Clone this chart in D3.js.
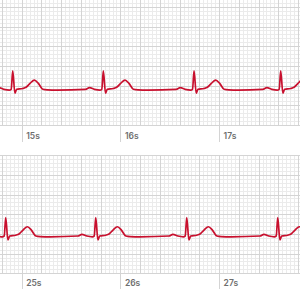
<!DOCTYPE html>
<html>
<head>
<meta charset="utf-8">
<script src="https://cdn.jsdelivr.net/npm/d3@7"></script>
<style>
  html, body { margin: 0; padding: 0; background: #fff; }
  svg { display: block; }
</style>
</head>
<body>
<div id="chart"></div>
<script>
// R-peak times (seconds)
const topBeats = [14.909, 15.827, 16.746, 17.624];
const bottomBeats = [24.838, 25.750, 26.672, 27.594];

// second markers under each strip
const topSeconds = [15, 16, 17];
const bottomSeconds = [25, 26, 27];

// one heartbeat: offset from the R peak (s) and voltage (mV)
const beatOffsets = [-0.18, -0.14, -0.09, -0.035, -0.015, 0, 0.022, 0.04, 0.10, 0.135, 0.175, 0.22, 0.26, 0.305, 0.35, 0.45];
const beatValues  = [0, 0.04, 0, -0.02, 0, 0.47, -0.1, 0.0, 0.02, 0.05, 0.15, 0.235, 0.15, 0, -0.015, -0.02];

const width = 300, height = 300;
const pxPerSec = 98.7;   // 1 s of paper
const pxPerMv = 39.4;    // 1 mV of paper

const svg = d3.select('#chart').append('svg')
    .attr('width', width)
    .attr('height', height);

// strip layout (grid top / bottom, where the zero line sits, where 1st second tick sits)
const strips = [
    { beats: topBeats, seconds: topSeconds, gridTop: 0, gridBottom: 125, baseline: 89.3, tickX: 21.7, labelY: 139 },
    { beats: bottomBeats, seconds: bottomSeconds, gridTop: 155, gridBottom: 273.3, baseline: 236, tickX: 21.7, labelY: 286 }
];

const line = d3.line()
    .x(d => d.x)
    .y(d => d.y)
    .curve(d3.curveMonotoneX);

strips.forEach(s => {
    const t0 = s.seconds[0] - s.tickX / pxPerSec;
    const x = d3.scaleLinear()
        .domain([t0, t0 + width / pxPerSec])
        .range([0, width]);
    const lowMv = -(s.gridBottom - s.baseline) / pxPerMv;
    const highMv = lowMv + (s.gridBottom - s.gridTop) / pxPerMv;
    const y = d3.scaleLinear()
        .domain([lowMv, highMv])
        .range([s.gridBottom, s.gridTop]);

    const g = svg.append('g');

    // paper grid: 0.04 s / 0.1 mV small squares, every 5th is a big one
    const vLines = d3.range(Math.ceil(x.domain()[0] / 0.04), Math.floor(x.domain()[1] / 0.04) + 1)
        .map(k => ({ v: k * 0.04, major: k % 5 === 0 }));
    const hLines = d3.range(0, Math.floor((highMv - lowMv) / 0.1 + 1e-6) + 1)
        .map(j => ({ v: lowMv + j * 0.1, major: j % 5 === 0 }));

    const drawGrid = (major) => {
        g.append('g').selectAll('line')
            .data(vLines.filter(d => d.major === major))
            .join('line')
            .attr('x1', d => Math.round(x(d.v)) + 0.5)
            .attr('x2', d => Math.round(x(d.v)) + 0.5)
            .attr('y1', s.gridTop)
            .attr('y2', s.gridBottom)
            .attr('stroke', major ? '#d4d4d4' : '#ebebeb')
            .attr('stroke-width', 1);
        g.append('g').selectAll('line')
            .data(hLines.filter(d => d.major === major))
            .join('line')
            .attr('x1', 0)
            .attr('x2', width)
            .attr('y1', d => Math.round(y(d.v)) + 0.5)
            .attr('y2', d => Math.round(y(d.v)) + 0.5)
            .attr('stroke', major ? '#d4d4d4' : '#ebebeb')
            .attr('stroke-width', 1);
    };
    drawGrid(false);
    drawGrid(true);

    // second ticks that run below the paper, with labels
    g.append('g').selectAll('line')
        .data(s.seconds)
        .join('line')
        .attr('x1', d => Math.round(x(d)) + 0.5)
        .attr('x2', d => Math.round(x(d)) + 0.5)
        .attr('y1', s.gridBottom)
        .attr('y2', s.labelY + 3)
        .attr('stroke', '#d4d4d4');

    g.append('g').selectAll('text')
        .data(s.seconds)
        .join('text')
        .attr('x', d => x(d) + 4.5)
        .attr('y', s.labelY)
        .attr('font-family', 'Inter, Roboto, sans-serif')
        .attr('font-size', '8.5px')
        .attr('font-weight', 600)
        .attr('fill', '#6e6e6e')
        .text(d => `${d}s`);

    // trace: flat line with each beat laid at its R time
    const pts = [{ x: x(x.domain()[0] - 0.5), y: y(0) }];
    s.beats.forEach(b => {
        beatOffsets.forEach((o, i) => pts.push({ x: x(b + o), y: y(beatValues[i]) }));
    });
    pts.push({ x: x(x.domain()[1] + 0.5), y: y(beatValues[beatValues.length - 1]) });

    g.append('path')
        .datum(pts)
        .attr('d', line)
        .attr('fill', 'none')
        .attr('stroke', '#c8102e')
        .attr('stroke-width', 1.7)
        .attr('stroke-linejoin', 'round');
});
</script>
</body>
</html>
